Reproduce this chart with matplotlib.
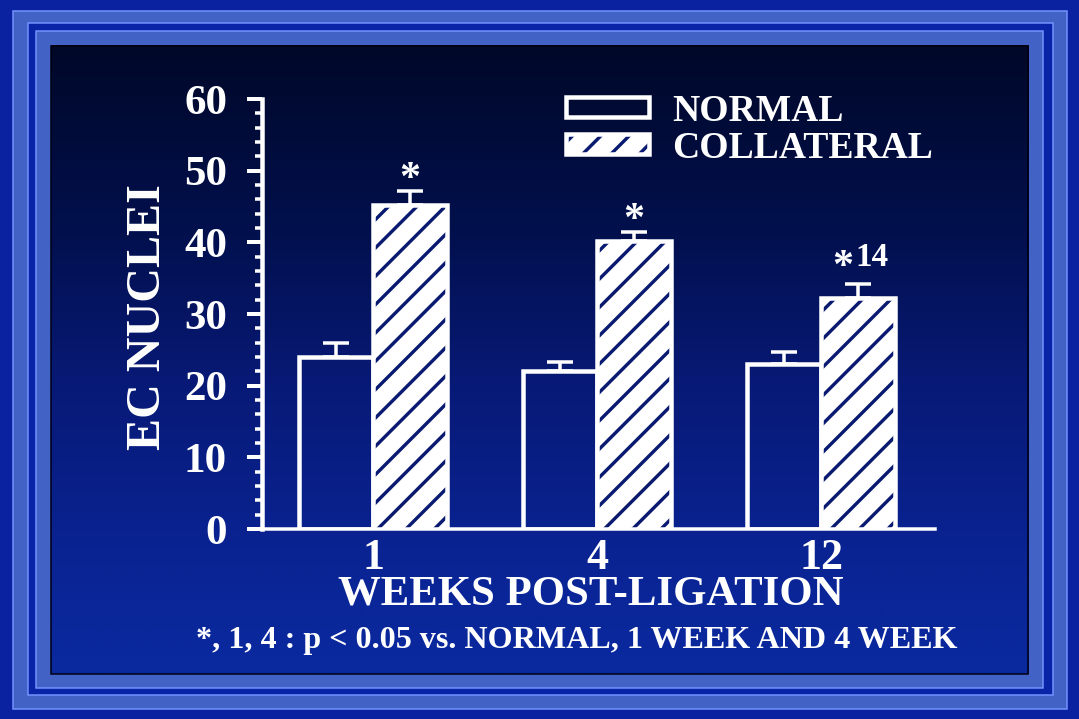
import matplotlib
matplotlib.use('Agg')
import matplotlib.pyplot as plt
import numpy as np
from matplotlib.patches import Rectangle, Patch
from matplotlib.colors import LinearSegmentedColormap
from matplotlib.legend_handler import HandlerTuple
from matplotlib.ticker import MultipleLocator

# ---------------- data ----------------
weeks = ['1', '4', '12']
normal = [24.0, 22.0, 23.0]
normal_err = [2.0, 1.3, 1.7]
collateral = [45.2, 40.2, 32.2]
collateral_err = [2.0, 1.2, 1.9]
sig_marks = ['*', '*', '*']
sig_extra = ['', '', '14']
series_names = ['NORMAL', 'COLLATERAL']
ylabel = 'EC NUCLEI'
xlabel = 'WEEKS POST-LIGATION'
footnote = '*, 1, 4 : p < 0.05 vs. NORMAL, 1 WEEK AND 4 WEEK'

# ---------------- style ----------------
DPI = 170
W, H = 1079, 719
FONT = 'Liberation Serif'
WHITE = 'white'
NAVY = '#0A1A70'


def pt(px):
    return px * 72.0 / DPI


plt.rcParams['font.family'] = [FONT, 'DejaVu Serif']
plt.rcParams['font.weight'] = 'bold'
plt.rcParams['hatch.linewidth'] = pt(3.4)
plt.rcParams['hatch.color'] = NAVY

fig = plt.figure(figsize=((W + 0.2) / DPI, (H + 0.2) / DPI), dpi=DPI)
fig.patch.set_facecolor('#0A22A0')

# background frame in pixel coordinates
bg = fig.add_axes([0, 0, 1, 1], zorder=0)
bg.axis('off')
band = '#4262C6'
edge = '#7494FF'
bg.add_patch(Rectangle((13, 11), 1054, 698, facecolor=band, edgecolor=edge, lw=pt(1.5), zorder=1))
bg.add_patch(Rectangle((28, 23), 1025, 672, facecolor='#0A24A8', edgecolor=edge, lw=pt(1.5), zorder=1))
bg.add_patch(Rectangle((36, 31), 1007, 657, facecolor=band, edgecolor=edge, lw=pt(1.5), zorder=1))
cmap = LinearSegmentedColormap.from_list('panel', [
    (0.0, '#000828'), (0.3, '#02104E'), (0.55, '#081A78'),
    (0.8, '#0A2392'), (1.0, '#0A2AA0')])
grad = np.linspace(0, 1, 256).reshape(-1, 1)
bg.imshow(grad, cmap=cmap, aspect='auto', extent=(51, 1028, 674, 46),
          origin='upper', interpolation='bilinear', zorder=2)
bg.add_patch(Rectangle((51, 46), 977, 628, facecolor='none', edgecolor='#000010',
                       lw=pt(1.5), zorder=3))
bg.set_xlim(0, W)
bg.set_ylim(H, 0)

# ---------------- chart ----------------
ax = fig.add_axes([262 / W, 1 - 529 / H, (935 - 262) / W, (529 - 99) / H], zorder=2)
ax.patch.set_alpha(0)

x = np.arange(len(weeks))
w = 0.33
bar_lw = pt(4.5)

ax.bar(x - w / 2, normal, w, facecolor='none', edgecolor=WHITE, lw=bar_lw, zorder=3)
ax.bar(x + w / 2, collateral, w, facecolor=WHITE, edgecolor=NAVY, lw=0, hatch='//', zorder=3)
ax.bar(x + w / 2, collateral, w, facecolor='none', edgecolor=WHITE, lw=bar_lw, zorder=4)

err_kw = dict(fmt='none', ecolor=WHITE, elinewidth=pt(3.5), capsize=pt(13),
              capthick=pt(3.5), zorder=2)
ax.errorbar(x - w / 2, normal, yerr=[np.zeros(3), normal_err], **err_kw)
ax.errorbar(x + w / 2, collateral, yerr=[np.zeros(3), collateral_err], **err_kw)

for i in range(len(weeks)):
    top = collateral[i] + collateral_err[i]
    if sig_extra[i]:
        ax.annotate(sig_marks[i], xy=(x[i] + w / 2, top), xytext=(pt(-15), pt(-2)),
                    textcoords='offset points', ha='center', va='bottom',
                    color=WHITE, fontsize=pt(42), fontweight='bold')
        ax.annotate(sig_extra[i], xy=(x[i] + w / 2, top), xytext=(pt(14), pt(12)),
                    textcoords='offset points', ha='center', va='bottom',
                    color=WHITE, fontsize=pt(33), fontweight='bold')
    else:
        ax.annotate(sig_marks[i], xy=(x[i] + w / 2, top), xytext=(0, pt(-8)),
                    textcoords='offset points', ha='center', va='bottom',
                    color=WHITE, fontsize=pt(42), fontweight='bold')

ax.set_xlim(-0.4955, 2.509)
ax.set_ylim(0, 60)
ax.yaxis.set_major_locator(MultipleLocator(10))
ax.yaxis.set_minor_locator(MultipleLocator(2))
ax.set_xticks(x)
ax.set_xticklabels(weeks)

for s in ['top', 'right']:
    ax.spines[s].set_visible(False)
ax.spines['left'].set_color(WHITE)
ax.spines['left'].set_linewidth(pt(4.5))
ax.spines['bottom'].set_color(WHITE)
ax.spines['bottom'].set_linewidth(pt(3.5))

ax.tick_params(axis='y', which='major', direction='out', length=pt(15), width=pt(4),
               color=WHITE, labelcolor=WHITE, labelsize=pt(43), pad=pt(20))
ax.tick_params(axis='y', which='minor', direction='out', length=pt(7), width=pt(3.5),
               color=WHITE)
ax.tick_params(axis='x', which='both', length=0, labelcolor=WHITE, labelsize=pt(44),
               pad=pt(9))
for lab in ax.get_xticklabels() + ax.get_yticklabels():
    lab.set_fontweight('bold')

# legend
h_norm = Patch(facecolor='none', edgecolor=WHITE, lw=pt(4.5))
h_col_fill = Patch(facecolor=WHITE, edgecolor=NAVY, lw=0, hatch='//')
h_col_edge = Patch(facecolor='none', edgecolor=WHITE, lw=pt(4.5))
leg = ax.legend([h_norm, (h_col_fill, h_col_edge)], series_names,
                handler_map={tuple: HandlerTuple(ndivide=1, pad=0)},
                loc='upper left', bbox_to_anchor=(566 / W, 1 - 94 / H),
                bbox_transform=fig.transFigure, frameon=False,
                prop={'family': FONT, 'weight': 'bold', 'size': pt(37.7)},
                handlelength=2.2, handleheight=0.44, handletextpad=0.62,
                labelspacing=0.05, borderpad=0, borderaxespad=0)
for t in leg.get_texts():
    t.set_color(WHITE)

# labels
fig.text(148 / W, 1 - 317 / H, ylabel, rotation=90, ha='center', va='center',
         color=WHITE, fontsize=pt(48), fontweight='bold')
fig.text(591 / W, 1 - 594 / H, xlabel, ha='center', va='center',
         color=WHITE, fontsize=pt(42.8), fontweight='bold')
fig.text(577 / W, 1 - 640 / H, footnote, ha='center', va='center',
         color=WHITE, fontsize=pt(32.2), fontweight='bold')

fig.savefig('out.png', dpi=DPI, facecolor=fig.get_facecolor())
